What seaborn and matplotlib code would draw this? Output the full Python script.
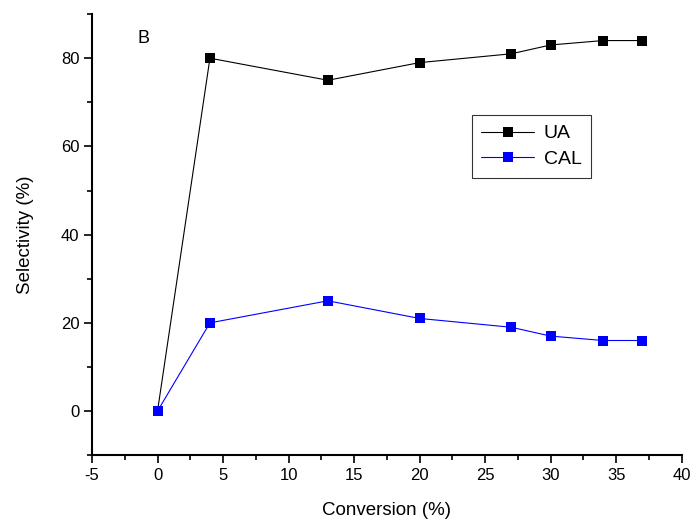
import matplotlib
matplotlib.use("Agg")
import matplotlib.pyplot as plt
import seaborn as sns
import pandas as pd
from matplotlib.ticker import MultipleLocator

# Datos
conversion = [0, 4, 13, 20, 27, 30, 34, 37]
ua = [0, 80, 75, 79, 81, 83, 84, 84]
cal = [0, 20, 25, 21, 19, 17, 16, 16]

df = pd.DataFrame({
    'conversion': conversion * 2,
    'selectivity': ua + cal,
    'serie': ['UA'] * len(ua) + ['CAL'] * len(cal),
})

sns.set_style("ticks")
plt.rcParams['font.family'] = ['Liberation Sans', 'DejaVu Sans']
plt.rcParams['axes.unicode_minus'] = False
plt.rcParams['text.color'] = 'black'
plt.rcParams['axes.labelcolor'] = 'black'
plt.rcParams['xtick.color'] = 'black'
plt.rcParams['ytick.color'] = 'black'

fig = plt.figure(figsize=(6.97, 5.22), dpi=100)
ax = fig.add_axes([0.132, 0.128, 0.846, 0.845])

sns.lineplot(data=df, x='conversion', y='selectivity', hue='serie',
             palette={'UA': 'black', 'CAL': 'blue'}, marker='s',
             markersize=7, markeredgewidth=0, linewidth=0.8, ax=ax)

ax.set_xlim(-5, 40)
ax.set_ylim(-10, 90)
ax.xaxis.set_major_locator(MultipleLocator(5))
ax.xaxis.set_minor_locator(MultipleLocator(2.5))
ax.yaxis.set_major_locator(MultipleLocator(20))
ax.yaxis.set_minor_locator(MultipleLocator(10))
ax.tick_params(which='major', direction='out', length=6, width=1.2,
               labelsize=12, pad=3)
ax.tick_params(which='minor', direction='out', length=3.5, width=1.2)
for s in ['left', 'bottom']:
    ax.spines[s].set_linewidth(1.5)
    ax.spines[s].set_color('black')
sns.despine(ax=ax)

ax.set_xlabel('Conversion (%)', fontsize=13.5, labelpad=14)
ax.set_ylabel('Selectivity (%)', fontsize=13.5, labelpad=19)
ax.text(0.077, 0.965, 'B', transform=ax.transAxes, fontsize=13, va='top')

leg = ax.legend(loc='upper left', bbox_to_anchor=(0.644, 0.771),
                borderaxespad=0, fontsize=14, frameon=True, fancybox=False,
                edgecolor='black', handlelength=2.7, handletextpad=0.5,
                borderpad=0.5, labelspacing=0.4)
leg.get_frame().set_linewidth(0.8)
leg.set_title(None)

fig.savefig('out.png', dpi=100)
